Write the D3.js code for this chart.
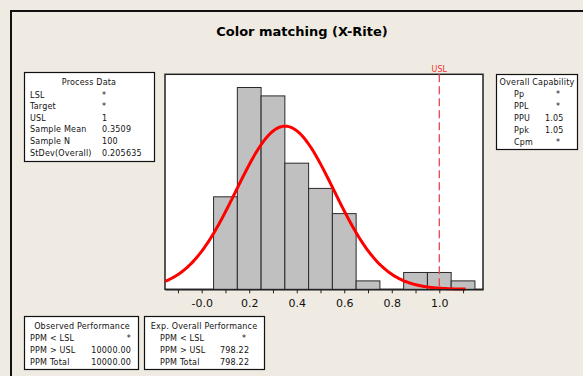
<html>
<head>
<style>
  body { margin: 0; background: #efebe2; }
  svg text { font-family: "DejaVu Sans", Verdana, sans-serif; }
</style>
</head>
<body>
<svg width="583" height="376"></svg>
<script src="https://cdn.jsdelivr.net/npm/d3@7"></script>
<script>
// histogram data (bins of width 0.1)
var binCenters = [0.1, 0.2, 0.3, 0.4, 0.5, 0.6, 0.7, 0.8, 0.9, 1.0, 1.1];
var counts = [11, 24, 23, 15, 12, 9, 1, 0, 2, 2, 1];
var binWidth = 0.1;

// normal fit
var mean = 0.3509, sd = 0.205635, n = 100, usl = 1;

// axis
var tickValues = [-0.1, 0, 0.1, 0.2, 0.3, 0.4, 0.5, 0.6, 0.7, 0.8, 0.9, 1.0, 1.1];
var majorTicks = [0, 0.2, 0.4, 0.6, 0.8, 1.0];
var majorLabels = ["-0.0", "0.2", "0.4", "0.6", "0.8", "1.0"];

// text tables
var processLabels = ["LSL", "Target", "USL", "Sample Mean", "Sample N", "StDev(Overall)"];
var processValues = ["*", "*", "1", "0.3509", "100", "0.205635"];
var capLabels = ["Pp", "PPL", "PPU", "Ppk", "Cpm"];
var capValues = ["*", "*", "1.05", "1.05", "*"];
var perfLabels = ["PPM < LSL", "PPM > USL", "PPM Total"];
var observedValues = ["*", "10000.00", "10000.00"];
var expectedValues = ["*", "798.22", "798.22"];

var svg = d3.select("svg");

// outer frame
svg.append("rect").attr("x", 11).attr("y", 11).attr("width", 620).attr("height", 420)
  .style("fill", "#efebe2").style("stroke", "#111").style("stroke-width", 2);

svg.append("text").attr("x", 302).attr("y", 36).attr("text-anchor", "middle")
  .style("font-size", "13px").style("font-weight", "bold").text("Color matching (X-Rite)");

var pLeft = 165, pRight = 483, pTop = 74.3, pBottom = 289.3;
var x = d3.scaleLinear()
  .domain([(pLeft - 201.7) / 237.6, (pRight - 201.7) / 237.6])
  .range([pLeft, pRight]);
var y = d3.scaleLinear().domain([0, 25.57]).range([pBottom, pTop]);

svg.append("rect").attr("x", pLeft).attr("y", pTop)
  .attr("width", pRight - pLeft).attr("height", pBottom - pTop)
  .style("fill", "#fff").style("stroke", "#222").style("stroke-width", 1.5);

// bars
svg.selectAll("rect.bar").data(binCenters).enter().append("rect")
  .attr("class", "bar")
  .attr("x", function(d) { return x(d - binWidth / 2); })
  .attr("width", function(d) { return x(d + binWidth / 2) - x(d - binWidth / 2); })
  .attr("y", function(d, i) { return y(counts[i]); })
  .attr("height", function(d, i) { return y(0) - y(counts[i]); })
  .style("fill", "#c0c0c0").style("stroke", "#2a2a2a").style("stroke-width", 1);

// USL line
svg.append("line").attr("x1", x(usl)).attr("x2", x(usl)).attr("y1", pTop).attr("y2", pBottom)
  .style("stroke", "#e8474a").style("stroke-width", 1.3).style("stroke-dasharray", "8,4");
svg.append("text").attr("x", x(usl)).attr("y", 72).attr("text-anchor", "middle")
  .style("font-size", "8px").style("fill", "#e33").text("USL");

// normal curve
var curveX = d3.range(x.domain()[0], 1.115, 0.005);
var dens = function(v) {
  var z = (v - mean) / sd;
  return n * binWidth * Math.exp(-0.5 * z * z) / (sd * Math.sqrt(2 * Math.PI));
};
svg.append("path").datum(curveX)
  .attr("d", d3.line().x(function(d) { return x(d); }).y(function(d) { return y(dens(d)); }))
  .style("fill", "none").style("stroke", "#ff0000").style("stroke-width", 3);

// x axis
var axis = d3.axisBottom(x).tickValues(tickValues).tickSize(4).tickSizeOuter(0)
  .tickFormat(function(d) {
    var k = majorTicks.findIndex(function(m) { return Math.abs(m - d) < 1e-9; });
    return k >= 0 ? majorLabels[k] : "";
  });
var g = svg.append("g").attr("transform", "translate(0," + pBottom + ")").call(axis);
g.select(".domain").style("stroke", "#222").style("stroke-width", 1.5);
g.selectAll(".tick line").style("stroke", "#222");
g.selectAll(".tick text").style("font-family", "DejaVu Sans, sans-serif")
  .style("font-size", "11px").style("fill", "#111").attr("dy", "0.9em").attr("y", 8);

// text boxes
function box(bx, by, bw, bh) {
  svg.append("rect").attr("x", bx).attr("y", by).attr("width", bw).attr("height", bh)
    .style("fill", "#fff").style("stroke", "#111").style("stroke-width", 1.2);
}
function txt(tx, ty, s, anchor) {
  svg.append("text").attr("x", tx).attr("y", ty).attr("text-anchor", anchor || "start")
    .style("font-size", "8px").style("letter-spacing", "0.2px").style("fill", "#111").text(s);
}

box(24.5, 72.5, 130, 89);
txt(89, 85, "Process Data", "middle");
processLabels.forEach(function(l, i) {
  txt(30, 97.5 + i * 11.6, l);
  txt(102, 97.5 + i * 11.6, processValues[i]);
});

box(496.5, 74.5, 81, 75);
txt(537, 85, "Overall Capability", "middle");
capLabels.forEach(function(l, i) {
  txt(514, 97 + i * 12, l);
  txt(capValues[i] == "*" ? 558 : 545, 97 + i * 12, capValues[i], capValues[i] == "*" ? "middle" : "start");
});

box(24.5, 316.5, 114, 53);
txt(82, 329, "Observed Performance", "middle");
perfLabels.forEach(function(l, i) {
  txt(30, 341 + i * 12, l);
  txt(131, 341 + i * 12, observedValues[i], "end");
});

box(144.5, 316.5, 120, 53);
txt(204, 329, "Exp. Overall Performance", "middle");
perfLabels.forEach(function(l, i) {
  txt(160, 341 + i * 12, l);
  txt(expectedValues[i] == "*" ? 244 : 220, 341 + i * 12, expectedValues[i], expectedValues[i] == "*" ? "middle" : "start");
});
</script>
</body>
</html>
